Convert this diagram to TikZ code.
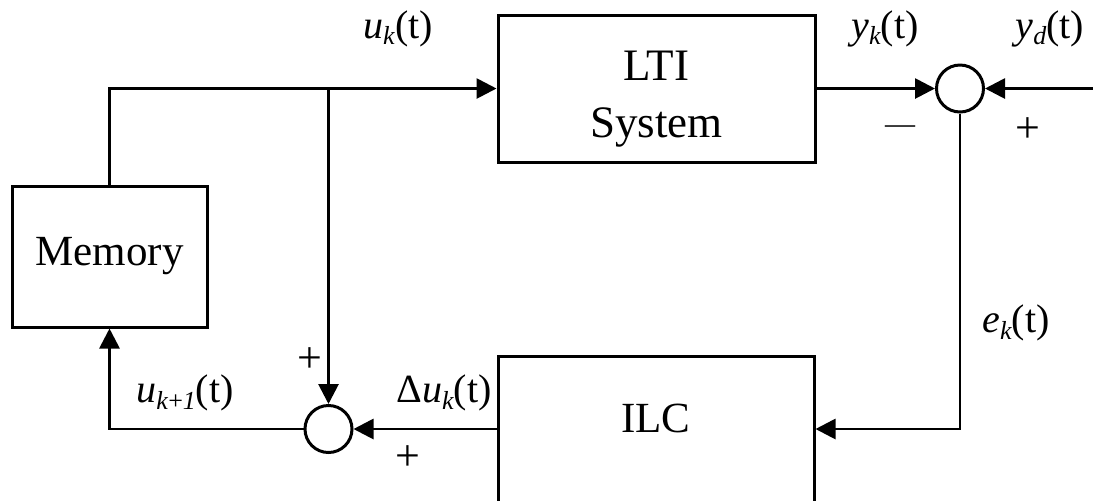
\documentclass[tikz,border=0pt]{standalone}
\usepackage{fontspec}
\setmainfont{Liberation Serif}
\usepackage{graphicx}
\usetikzlibrary{arrows.meta}
\newcommand{\ix}[1]{\raisebox{-0.17em}{\scalebox{0.65}{#1}}}

\begin{document}
\begin{tikzpicture}[x = 0.5pt, y = -0.5pt,
    block/.style = {draw, line width = 1.5pt, inner sep = 0pt},
    sumpt/.style = {draw, circle, line width = 1.5pt, minimum size = 23.5pt, inner sep = 0pt},
    sig/.style = {font = \fontsize{20}{22}\selectfont, inner sep = 0pt},
    sgn/.style = {font = \fontsize{22}{24}\selectfont, inner sep = 0pt},
    wire/.style = {->, line width = 1.4pt},
    >= {Triangle[length = 10pt, width = 10pt]}]
    \useasboundingbox (0,0) rectangle (1093,500);
    \clip (0,0) rectangle (1093,500);
    % blocks
    \node [block, minimum width = 158.5pt, minimum height = 73.5pt, align = center,
           font = \fontsize{22.5}{28.5}\selectfont, text height = 53.4pt, text depth = 4.8pt]
      (lti) at (656.5,88.5) {LTI\\System};
    \node [block, minimum width = 97.5pt, minimum height = 70.5pt,
           font = \fontsize{21.5}{24}\selectfont]
      (mem) at (109.5,256.5) {Memory};
    \node [block, minimum width = 158pt, minimum height = 73pt,
           font = \fontsize{21.5}{24}\selectfont, text depth = 11pt]
      (ilc) at (656,429) {ILC};
    \node [sumpt] (sy) at (960,88.5) {};
    \node [sumpt] (su) at (328.5,429) {};
    \coordinate (yd) at (1093,88.5);
    \coordinate (br) at (su |- lti.west);
    % connectors
    \draw [wire] (mem.north) |- (lti.west);
    \draw [wire] (br) -- (su.north);
    \draw [wire] (lti.east) -- (sy.west);
    \draw [wire] (yd) -- (sy.east);
    \draw [wire] (sy.south) |- (ilc.east);
    \draw [wire] (ilc.west) -- (su.east);
    \draw [wire] (su.west) -| (mem.south);
    % signals and signs
    \node [sig] (uk) at (398,28.5) {\textit{u}\ix{\textit{k}}(t)};
    \node [sig] (yk) at (885,28.5) {\textit{y}\ix{\textit{k}}(t)};
    \node [sig] (ydl) at (1050,28.5) {\textit{y}\ix{\textit{d}}(t)};
    \node [sig] (ek) at (1016,323) {\textit{e}\ix{\textit{k}}(t)};
    \node [sig] (ukn) at (185,393) {\textit{u}\ix{\textit{k}+\textit{1}}(t)};
    \node [sig] (duk) at (444,393) {Δ\textit{u}\ix{\textit{k}}(t)};
    \node [font = \fontsize{15}{18}\selectfont, inner sep = 0pt] (mn) at (900,130) {—};
    \node [sgn] (pd) at (1028,130) {+};
    \node [sgn] (pu) at (310,360) {+};
    \node [sgn] (pl) at (408,458) {+};
\end{tikzpicture}
\end{document}
